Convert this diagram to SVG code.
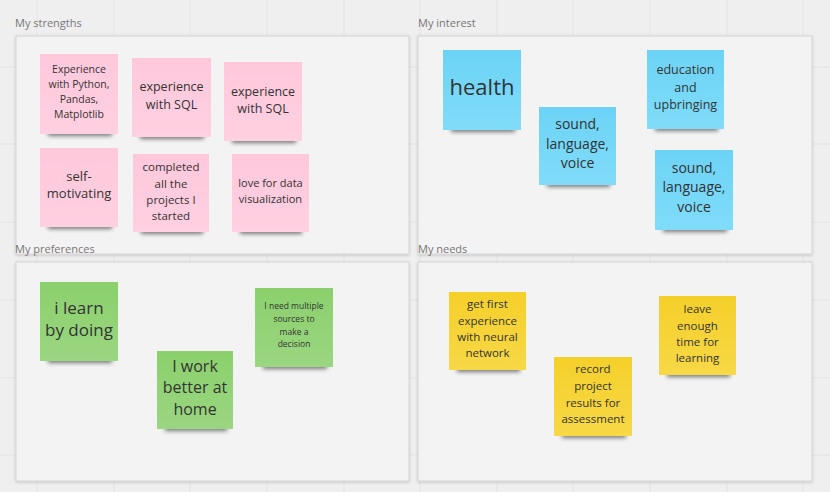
<svg xmlns="http://www.w3.org/2000/svg" width="830" height="492" viewBox="0 0 830 492">
<style>
.lbl{font-family:"Open Sans","Liberation Sans",sans-serif;font-size:11px;fill:#777}
.t{font-family:"Open Sans","Liberation Sans",sans-serif;fill:#333;text-anchor:middle}
.frame{fill:#f3f3f3;stroke:#d4d4d4;stroke-width:1}
.grid line{stroke:#e3e3e3;stroke-width:1}
.pink{fill:url(#gp)}
.blue{fill:url(#gb)}
.green{fill:url(#gg)}
.yellow{fill:url(#gy)}
.sh{fill:#000;opacity:0.5;filter:url(#blur)}
</style>
<defs>
<filter id="blur" x="-20%" y="-100%" width="140%" height="300%"><feGaussianBlur stdDeviation="2.2"/></filter>
<filter id="fsh" x="-5%" y="-5%" width="110%" height="110%"><feDropShadow dx="0" dy="1" stdDeviation="1.5" flood-color="#000" flood-opacity="0.18"/></filter>
<linearGradient id="gp" x1="0" y1="0" x2="0" y2="1"><stop offset="0" stop-color="#fec8db"/><stop offset="1" stop-color="#ffd0e1"/></linearGradient>
<linearGradient id="gb" x1="0" y1="0" x2="0" y2="1"><stop offset="0" stop-color="#6cd3f6"/><stop offset="1" stop-color="#80dcf9"/></linearGradient>
<linearGradient id="gg" x1="0" y1="0" x2="0" y2="1"><stop offset="0" stop-color="#8bd06c"/><stop offset="1" stop-color="#9bd681"/></linearGradient>
<linearGradient id="gy" x1="0" y1="0" x2="0" y2="1"><stop offset="0" stop-color="#f5d02a"/><stop offset="1" stop-color="#f7d846"/></linearGradient>
</defs>
<rect width="830" height="492" fill="#efefef"/>
<g class="grid">
<line x1="37" y1="0" x2="37" y2="492"/><line x1="114" y1="0" x2="114" y2="492"/><line x1="190" y1="0" x2="190" y2="492"/><line x1="267" y1="0" x2="267" y2="492"/><line x1="344" y1="0" x2="344" y2="492"/><line x1="420" y1="0" x2="420" y2="492"/><line x1="497" y1="0" x2="497" y2="492"/><line x1="573" y1="0" x2="573" y2="492"/><line x1="650" y1="0" x2="650" y2="492"/><line x1="727" y1="0" x2="727" y2="492"/><line x1="803" y1="0" x2="803" y2="492"/>
<line x1="0" y1="67" x2="830" y2="67"/><line x1="0" y1="144" x2="830" y2="144"/><line x1="0" y1="222" x2="830" y2="222"/><line x1="0" y1="300" x2="830" y2="300"/><line x1="0" y1="378" x2="830" y2="378"/><line x1="0" y1="455" x2="830" y2="455"/>
</g>
<g id="frame-strengths">
<text class="lbl" x="15" y="27">My strengths</text>
<rect class="frame" x="16" y="36" width="393" height="218" filter="url(#fsh)"/>
</g>
<g id="frame-interest">
<text class="lbl" x="418" y="27">My interest</text>
<rect class="frame" x="418" y="36" width="394" height="218" filter="url(#fsh)"/>
</g>
<g id="frame-preferences">
<text class="lbl" x="15" y="253">My preferences</text>
<rect class="frame" x="16" y="262" width="393" height="219" filter="url(#fsh)"/>
</g>
<g id="frame-needs">
<text class="lbl" x="418" y="253">My needs</text>
<rect class="frame" x="418" y="262" width="394" height="219" filter="url(#fsh)"/>
</g>

<g id="s1"><rect class="sh" x="48" y="130" width="64" height="6"/><rect class="pink" x="40" y="54" width="78" height="80"/>
<text class="t" font-size="10.5"><tspan x="79" y="73">Experience</tspan><tspan x="79" y="88">with Python,</tspan><tspan x="79" y="103">Pandas,</tspan><tspan x="79" y="118">Matplotlib</tspan></text></g>
<g id="s2"><rect class="sh" x="140" y="133" width="64" height="6"/><rect class="pink" x="132" y="58" width="79" height="79"/>
<text class="t" font-size="12.5"><tspan x="171.5" y="91">experience</tspan><tspan x="171.5" y="109">with SQL</tspan></text></g>
<g id="s3"><rect class="sh" x="232" y="137" width="64" height="6"/><rect class="pink" x="224" y="62" width="78" height="79"/>
<text class="t" font-size="12.5"><tspan x="263" y="96">experience</tspan><tspan x="263" y="113">with SQL</tspan></text></g>
<g id="s4"><rect class="sh" x="48" y="223" width="64" height="6"/><rect class="pink" x="40" y="148" width="78" height="79"/>
<text class="t" font-size="13"><tspan x="79" y="181">self-</tspan><tspan x="79" y="198">motivating</tspan></text></g>
<g id="s5"><rect class="sh" x="141" y="228" width="62" height="6"/><rect class="pink" x="133" y="154" width="76" height="78"/>
<text class="t" font-size="11.5"><tspan x="171" y="171">completed</tspan><tspan x="171" y="188">all the</tspan><tspan x="171" y="204">projects I</tspan><tspan x="171" y="220">started</tspan></text></g>
<g id="s6"><rect class="sh" x="240" y="228" width="62" height="6"/><rect class="pink" x="232" y="154" width="77" height="78"/>
<text class="t" font-size="11"><tspan x="270.5" y="187">love for data</tspan><tspan x="270.5" y="203">visualization</tspan></text></g>

<g id="i1"><rect class="sh" x="451" y="126" width="64" height="6"/><rect class="blue" x="443" y="50" width="78" height="80"/>
<text class="t" font-size="22" x="482" y="95">health</text></g>
<g id="i2"><rect class="sh" x="547" y="181" width="63" height="6"/><rect class="blue" x="539" y="107" width="77" height="78"/>
<text class="t" font-size="14"><tspan x="577.5" y="129">sound,</tspan><tspan x="577.5" y="149">language,</tspan><tspan x="577.5" y="168">voice</tspan></text></g>
<g id="i3"><rect class="sh" x="655" y="125" width="63" height="6"/><rect class="blue" x="647" y="50" width="77" height="79"/>
<text class="t" font-size="12.5"><tspan x="685.5" y="74">education</tspan><tspan x="685.5" y="92">and</tspan><tspan x="685.5" y="109">upbringing</tspan></text></g>
<g id="i4"><rect class="sh" x="663" y="226" width="64" height="6"/><rect class="blue" x="655" y="150" width="78" height="80"/>
<text class="t" font-size="14"><tspan x="694" y="173">sound,</tspan><tspan x="694" y="192">language,</tspan><tspan x="694" y="212">voice</tspan></text></g>

<g id="p1"><rect class="sh" x="48" y="357" width="64" height="6"/><rect class="green" x="40" y="282" width="78" height="79"/>
<text class="t" font-size="17"><tspan x="79" y="314">i learn</tspan><tspan x="79" y="336">by doing</tspan></text></g>
<g id="p2"><rect class="sh" x="165" y="425" width="62" height="6"/><rect class="green" x="157" y="351" width="76" height="78"/>
<text class="t" font-size="16"><tspan x="195" y="372">I work</tspan><tspan x="195" y="393">better at</tspan><tspan x="195" y="415">home</tspan></text></g>
<g id="p3"><rect class="sh" x="263" y="363" width="64" height="6"/><rect class="green" x="255" y="288" width="78" height="79"/>
<text class="t" font-size="8.5"><tspan x="294" y="309">I need multiple</tspan><tspan x="294" y="322">sources to</tspan><tspan x="294" y="335">make a</tspan><tspan x="294" y="347">decision</tspan></text></g>

<g id="n1"><rect class="sh" x="457" y="366" width="63" height="6"/><rect class="yellow" x="449" y="292" width="77" height="78"/>
<text class="t" font-size="11.5"><tspan x="487.5" y="308">get first</tspan><tspan x="487.5" y="325">experience</tspan><tspan x="487.5" y="341">with neural</tspan><tspan x="487.5" y="357">network</tspan></text></g>
<g id="n2"><rect class="sh" x="562" y="432" width="64" height="6"/><rect class="yellow" x="554" y="357" width="78" height="79"/>
<text class="t" font-size="11.5"><tspan x="593" y="373">record</tspan><tspan x="593" y="390">project</tspan><tspan x="593" y="407">results for</tspan><tspan x="593" y="423">assessment</tspan></text></g>
<g id="n3"><rect class="sh" x="667" y="371" width="63" height="6"/><rect class="yellow" x="659" y="296" width="77" height="79"/>
<text class="t" font-size="11.5"><tspan x="697.5" y="313">leave</tspan><tspan x="697.5" y="330">enough</tspan><tspan x="697.5" y="346">time for</tspan><tspan x="697.5" y="362">learning</tspan></text></g>
</svg>
